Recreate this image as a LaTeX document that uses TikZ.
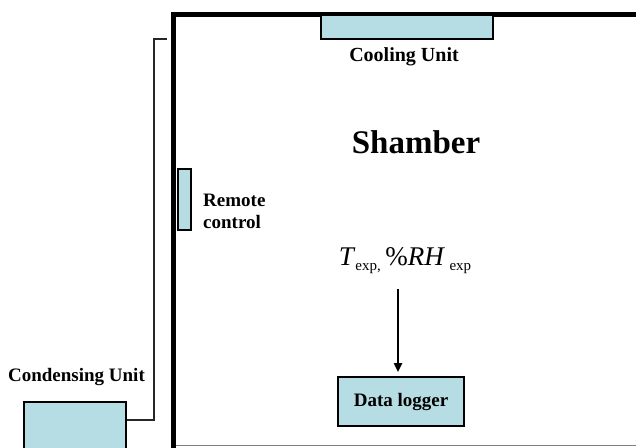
\documentclass[tikz,border=0pt]{standalone}
\usepackage{fontspec}
\setmainfont{Liberation Serif}
\usetikzlibrary{arrows.meta}
\definecolor{unitblue}{RGB}{183,221,228}
\tikzset{
  unitbox/.style={draw=black, fill=unitblue, line width=1.8pt, inner sep=0pt, minimum width=#1},
  lbl/.style={font=\bfseries\fontsize{19}{22}\selectfont, inner sep=0pt},
  wall/.style={line width=5pt},
  pipe/.style={line width=1.4pt, draw=black!85},
}
\begin{document}
\begin{tikzpicture}[x=1pt,y=-1pt]
\useasboundingbox (0,0) rectangle (636,447);
% chamber walls
\draw[wall] (173.5,452) -- (173.5,14.5) -- (645,14.5);
\draw[gray, line width=1pt] (176,445) coordinate (bl) -- (640,445) coordinate (br);
% cooling unit
\node[unitbox=172pt, minimum height=24pt] (cool) at (407,27) {};
\node[lbl, font=\bfseries\fontsize{20}{22}\selectfont] (coollbl) at (404,57) {Cooling Unit};
% title
\node[inner sep=0pt, font=\bfseries\fontsize{33}{36}\selectfont] (title) at (416,142) {Shamber};
% remote control
\node[unitbox=13pt, minimum height=61pt] (remote) at (184.5,199.5) {};
\node[lbl, anchor=west, align=left] (remotelbl) at (203,211) {Remote\\control};
% condensing unit
\node[unitbox=102pt, minimum height=52pt] (cond) at (75,428) {};
\node[lbl] (condlbl) at (76.5,377) {Condensing Unit};
% pipe
\coordinate (pipeend) at (167,39);
\draw[pipe] (cond.east |- 0,420) -| (154,39) -- (pipeend);
% measurement
\node[inner sep=0pt, font=\fontsize{27}{30}\selectfont] (meas) at (405,261)
  {\textit{T}\raisebox{-5pt}{\fontsize{15}{15}\selectfont exp,}\,\%\textit{RH}\,\raisebox{-5pt}{\fontsize{15}{15}\selectfont exp}};
% data logger
\node[unitbox=126pt, minimum height=49pt, font=\bfseries\fontsize{19}{22}\selectfont] (logger) at (401,401.5) {Data logger};
\coordinate (arrstart) at (398,289);
\draw[line width=2pt, -{Triangle[length=9pt,width=8pt]}] (arrstart) -- (arrstart |- logger.north) [shorten >=4pt];
\end{tikzpicture}
\end{document}
